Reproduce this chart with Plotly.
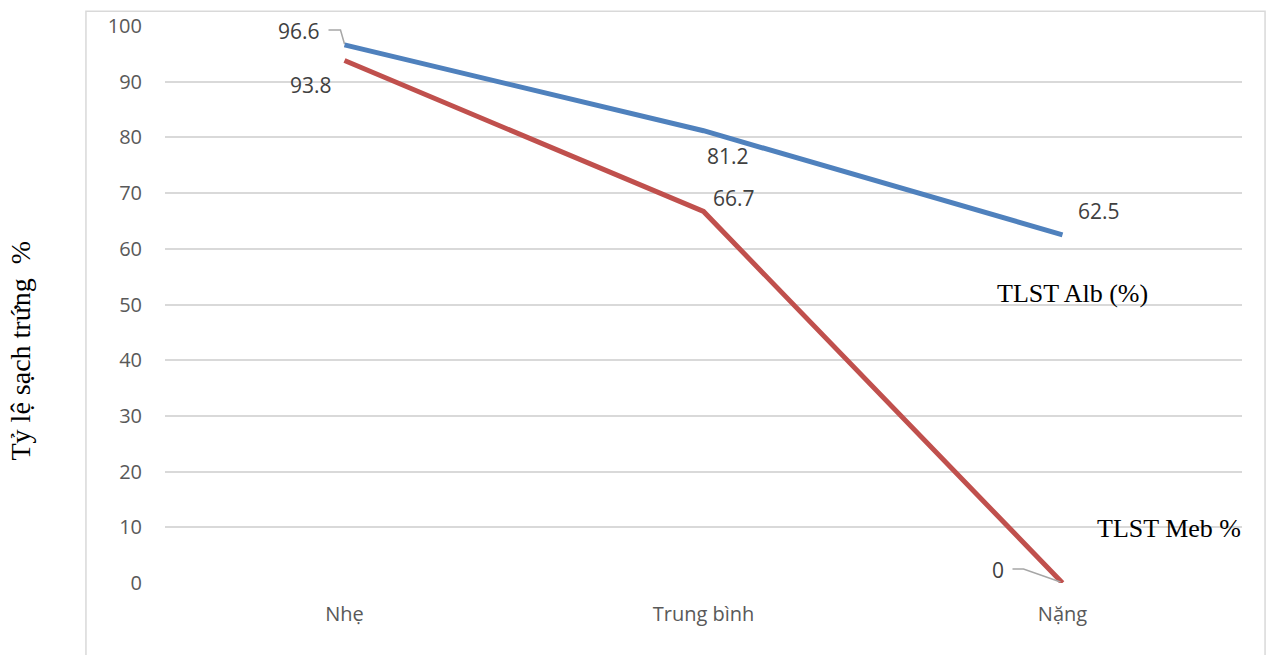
import plotly.graph_objects as go

# Severity groups and egg-clearance rates (%)
categories = ["Nhẹ", "Trung bình", "Nặng"]
alb_rate = [96.6, 81.2, 62.5]
meb_rate = [93.8, 66.7, 0]
y_ticks = [0, 10, 20, 30, 40, 50, 60, 70, 80, 90, 100]

BLUE = "#4F81BD"
RED = "#C0504D"
GRID = "#D9D9D9"
TICK_FONT = dict(family="Open Sans", size=20, color="#595959")
LABEL_FONT = dict(family="Open Sans", size=21, color="#404040")
SERIF = "Liberation Serif"

fig = go.Figure()
fig.add_trace(go.Scatter(x=categories, y=alb_rate, mode="lines",
                         line=dict(color=BLUE, width=5), name="TLST Alb (%)",
                         hoverinfo="x+y"))
fig.add_trace(go.Scatter(x=categories, y=meb_rate, mode="lines",
                         line=dict(color=RED, width=5), name="TLST Meb %",
                         hoverinfo="x+y"))

# Data labels: (series, point index, x shift px, y shift px)
label_specs = [
    (alb_rate, 0, -46, 14),
    (alb_rate, 1, 24, -25),
    (alb_rate, 2, 36, 24),
    (meb_rate, 0, -34, -24),
    (meb_rate, 1, 30, 13),
    (meb_rate, 2, -65, 13),
]
annotations = []
for series, i, dx, dy in label_specs:
    annotations.append(dict(
        x=categories[i], y=series[i], xref="x", yref="y",
        text=f"{series[i]:g}", showarrow=False,
        xshift=dx, yshift=dy, font=LABEL_FONT,
    ))

# Series names placed beside the lines
annotations.append(dict(x=0.7705, y=0.5205, xref="paper", yref="paper",
                        xanchor="left", yanchor="middle", showarrow=False,
                        text="TLST Alb (%)", font=dict(family=SERIF, size=26, color="black")))
annotations.append(dict(x=0.8635, y=0.098, xref="paper", yref="paper",
                        xanchor="left", yanchor="middle", showarrow=False,
                        text="TLST Meb %", font=dict(family=SERIF, size=26, color="black")))

# Axis title
annotations.append(dict(x=0, y=0.5, xref="paper", yref="paper",
                        xshift=-145, yshift=-46, textangle=-90,
                        xanchor="center", yanchor="middle", showarrow=False,
                        text="Tỷ lệ sạch trứng  %",
                        font=dict(family=SERIF, size=28, color="black")))

shapes = [
    # leader lines from labels to points
    dict(type="path", xref="x", yref="y",
         xsizemode="pixel", ysizemode="pixel",
         xanchor=0, yanchor=alb_rate[0],
         path="M 0,1 L -4,15 L -16,15",
         line=dict(color="#A6A6A6", width=1.5)),
    dict(type="path", xref="x", yref="y",
         xsizemode="pixel", ysizemode="pixel",
         xanchor=2, yanchor=meb_rate[2],
         path="M -2,1 L -39,14 L -50,14",
         line=dict(color="#A6A6A6", width=1.5)),
    # chart frame
    dict(type="rect", xref="paper", yref="paper",
         x0=-0.0734, x1=1.0214, y0=-0.145, y1=1.0267,
         line=dict(color=GRID, width=1.5), layer="below"),
]

fig.update_layout(
    width=1273, height=655,
    margin=dict(l=165, r=31, t=22, b=72),
    paper_bgcolor="white", plot_bgcolor="white",
    showlegend=False,
    annotations=annotations,
    shapes=shapes,
    xaxis=dict(type="category", range=[-0.5, 2.5], showgrid=False,
               showline=False, zeroline=False, ticks="",
               tickfont=TICK_FONT, ticklabelstandoff=17),
    yaxis=dict(range=[0, 100], tickvals=y_ticks, showgrid=True,
               gridcolor=GRID, gridwidth=1.5, zeroline=False,
               showline=False, ticks="", tickfont=TICK_FONT,
               ticklabelstandoff=22),
)

fig.write_html("out.html")
